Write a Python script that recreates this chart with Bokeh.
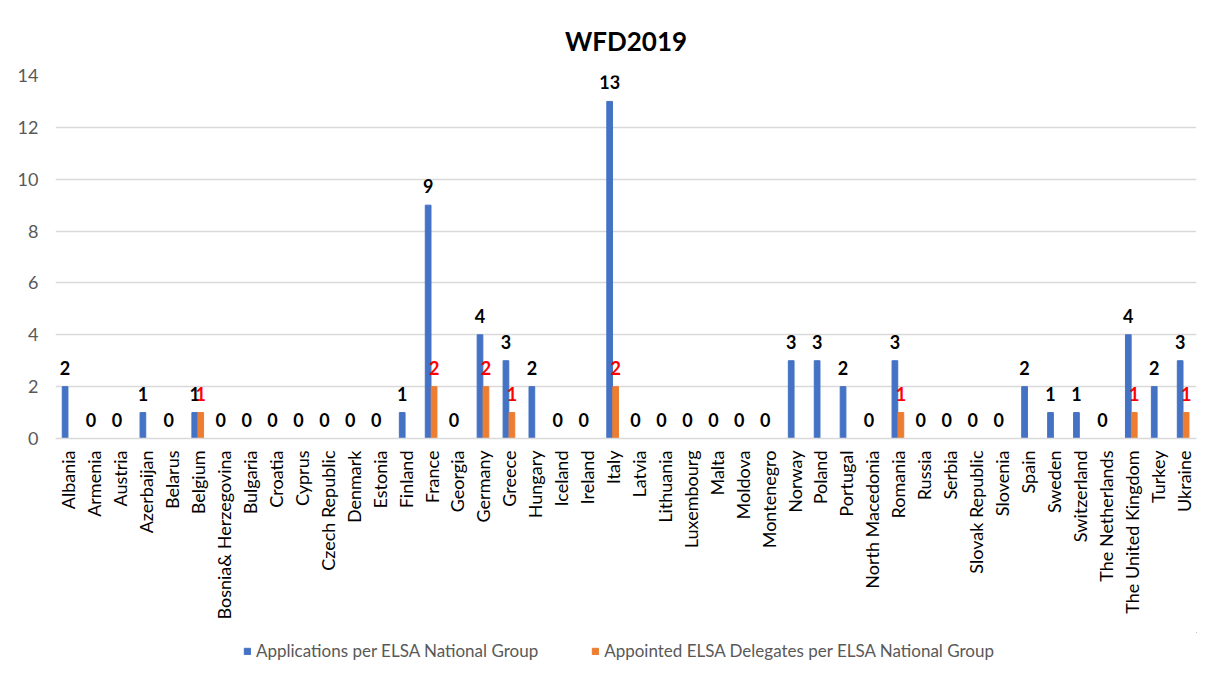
from bokeh.plotting import figure
from bokeh.layouts import column
from bokeh.models import ColumnDataSource, FactorRange, Range1d, Legend, LegendItem, SingleIntervalTicker
from bokeh.transform import dodge
from bokeh.core.properties import value
from bokeh.embed import file_html
from bokeh.resources import INLINE

countries = ["Albania", "Armenia", "Austria", "Azerbaijan", "Belarus", "Belgium",
             "Bosnia& Herzegovina", "Bulgaria", "Croatia", "Cyprus", "Czech Republic",
             "Denmark", "Estonia", "Finland", "France", "Georgia", "Germany", "Greece",
             "Hungary", "Iceland", "Ireland", "Italy", "Latvia", "Lithuania", "Luxembourg",
             "Malta", "Moldova", "Montenegro", "Norway", "Poland", "Portugal",
             "North Macedonia", "Romania", "Russia", "Serbia", "Slovak Republic",
             "Slovenia", "Spain", "Sweden", "Switzerland", "The Netherlands",
             "The United Kingdom", "Turkey", "Ukraine"]
applications = [2, 0, 0, 1, 0, 1, 0, 0, 0, 0, 0, 0, 0, 1, 9, 0, 4, 3, 2, 0, 0, 13,
                0, 0, 0, 0, 0, 0, 3, 3, 2, 0, 3, 0, 0, 0, 0, 2, 1, 1, 0, 4, 2, 3]
appointed = [0, 0, 0, 0, 0, 1, 0, 0, 0, 0, 0, 0, 0, 0, 2, 0, 2, 1, 0, 0, 0, 2,
             0, 0, 0, 0, 0, 0, 0, 0, 0, 0, 1, 0, 0, 0, 0, 0, 0, 0, 0, 1, 0, 1]
series_names = ["Applications per ELSA National Group",
                "Appointed ELSA Delegates per ELSA National Group"]

BLUE = "#4472C4"
ORANGE = "#ED7D31"
FONT = "Lato"

src = ColumnDataSource(dict(
    cat=countries,
    app=applications,
    apt=appointed,
    app_lbl=[str(v) for v in applications],
    apt_lbl=[str(v) if v > 0 else "" for v in appointed],
))

p = figure(x_range=FactorRange(*countries), y_range=Range1d(0, 14),
           width=1215, height=632, output_backend="svg", toolbar_location=None,
           title="WFD2019",
           min_border_left=55, min_border_right=19, min_border_top=75, min_border_bottom=194)

p.title.align = "center"
p.title.text_font = FONT
p.title.text_font_size = "26px"
p.title.text_font_style = "bold"
p.title.text_color = "#000000"
p.title.standoff = 38

p.vbar(x=dodge("cat", -0.13, range=p.x_range), top="app", width=0.22,
       source=src, color=BLUE)
p.vbar(x=dodge("cat", 0.10, range=p.x_range), top="apt", width=0.22,
       source=src, color=ORANGE)

p.text(x=dodge("cat", -0.13, range=p.x_range), y="app", text="app_lbl", source=src,
       text_font=value(FONT), text_font_size="18px", text_font_style="bold",
       text_color="#000000", text_align="center", text_baseline="alphabetic", y_offset=-19)
p.text(x=dodge("cat", 0.10, range=p.x_range), y="apt", text="apt_lbl", source=src,
       text_font=value(FONT), text_font_size="18px", text_font_style="bold",
       text_color="#FF0000", text_align="center", text_baseline="alphabetic", y_offset=-19)

p.outline_line_color = None
p.xgrid.grid_line_color = None
p.ygrid.grid_line_color = "#D9D9D9"
p.ygrid.grid_line_width = 1.3
p.yaxis.ticker = SingleIntervalTicker(interval=2)
p.yaxis.axis_line_color = None
p.yaxis.major_tick_line_color = None
p.yaxis.minor_tick_line_color = None
p.yaxis.major_label_text_font = FONT
p.yaxis.major_label_text_font_size = "18px"
p.yaxis.major_label_text_color = "#595959"
p.yaxis.major_label_standoff = 11

p.xaxis.axis_line_color = "#D9D9D9"
p.xaxis.axis_line_width = 1.3
p.xaxis.major_tick_line_color = None
p.xaxis.minor_tick_line_color = None
p.xaxis.major_label_orientation = 1.5707963
p.xaxis.major_label_text_font = FONT
p.xaxis.major_label_text_font_size = "18px"
p.xaxis.major_label_text_color = "#000000"
p.xaxis.major_label_standoff = 6
p.x_range.range_padding = 0
p.x_range.group_padding = 0

# legend strip below the chart (legend-only renderers kept far outside the visible range)
lg = figure(width=1215, height=42, output_backend="svg", toolbar_location=None,
            x_range=Range1d(0, 1), y_range=Range1d(0, 1),
            min_border=0, min_border_left=0, min_border_right=0,
            min_border_top=0, min_border_bottom=0)
lg.axis.visible = False
lg.grid.visible = False
lg.outline_line_color = None
l1 = lg.vbar(x=[100], top=[101], bottom=[100], width=0.1, color=BLUE)
l2 = lg.vbar(x=[100], top=[101], bottom=[100], width=0.1, color=ORANGE)
legend = Legend(items=[
    LegendItem(label=series_names[0], renderers=[l1]),
    LegendItem(label=series_names[1], renderers=[l2]),
], orientation="horizontal", location=(188, 13),
    label_text_font=FONT, label_text_font_size="17px", label_text_color="#595959",
    glyph_width=8, glyph_height=8, spacing=53, label_standoff=5, padding=2, margin=0,
    border_line_color=None, background_fill_alpha=0)
lg.add_layout(legend, "center")

layout = column(p, lg, spacing=0)
open("out.html", "w").write(file_html(layout, INLINE))
